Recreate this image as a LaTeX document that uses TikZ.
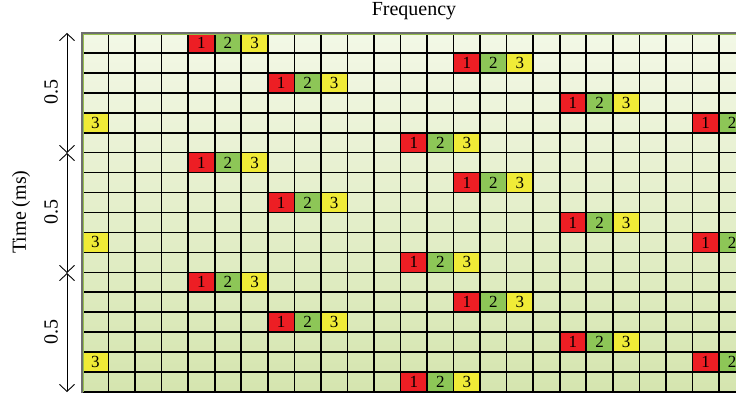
\documentclass[tikz,border=0pt]{standalone}
\usepackage{fontspec}
\setmainfont{Liberation Serif}
\usetikzlibrary{arrows.meta}
\definecolor{gtop}{RGB}{243,248,230}
\definecolor{gbot}{RGB}{213,229,175}
\definecolor{cred}{RGB}{237,30,36}
\definecolor{cgreen}{RGB}{141,198,87}
\definecolor{cyellow}{RGB}{240,235,55}
\definecolor{edgegray}{RGB}{110,110,110}
\definecolor{edgegreen}{RGB}{150,190,80}
\newcommand\cw{26.54}
\newcommand\rh{19.944}
\newcommand\mycell[4]{%
  \node[cellbox,fill=#3] (c-#1-#2) at ({82+(#1-0.5)*\cw},{33+(#2-0.5)*\rh}) {#4};}
\newcommand\mytriple[2]{%
  \mycell{#1}{#2}{cred}{1}%
  \pgfmathtruncatemacro\colb{#1+1}\pgfmathtruncatemacro\colc{#1+2}%
  \mycell{\colb}{#2}{cgreen}{2}%
  \mycell{\colc}{#2}{cyellow}{3}}
\tikzset{
  cellbox/.style={minimum width=\cw pt,minimum height=\rh pt,inner sep=0pt,draw=none,
    font=\fontsize{17}{17}\selectfont},
  gridline/.style={black,line width=1.6pt},
  dimarrow/.style={line width=0.9pt,{Straight Barb[length=7pt,width=15pt]}-{Straight Barb[length=7pt,width=15pt]}},
  lbl/.style={font=\fontsize{20}{20}\selectfont,inner sep=0pt}
}
\begin{document}
\begin{tikzpicture}[x=1pt,y=-1pt]
\useasboundingbox (0,0) rectangle (736,395);
\begin{scope}
\clip (0,0) rectangle (736,395);
\shade[top color=gtop,bottom color=gbot] (82,33) rectangle (770,392);
\foreach \s in {0,1,2}{
  \pgfmathtruncatemacro\ra{6*\s+1}
  \pgfmathtruncatemacro\rb{6*\s+2}
  \pgfmathtruncatemacro\rc{6*\s+3}
  \pgfmathtruncatemacro\rd{6*\s+4}
  \pgfmathtruncatemacro\re{6*\s+5}
  \pgfmathtruncatemacro\rf{6*\s+6}
  \mytriple{5}{\ra}
  \mytriple{15}{\rb}
  \mytriple{8}{\rc}
  \mytriple{19}{\rd}
  \mycell{1}{\re}{cyellow}{3}
  \mycell{24}{\re}{cred}{1}
  \mycell{25}{\re}{cgreen}{2}
  \mytriple{13}{\rf}
}
\foreach \i in {1,...,18} \draw[gridline] (82,{33+\i*\rh}) -- (770,{33+\i*\rh});
\foreach \j in {1,...,26} \draw[gridline] ({82+\j*\cw},33) -- ({82+\j*\cw},392);
\draw[edgegray,line width=1.8pt] (82,392.8) -- (82,33) -- (770,33);
\draw[edgegreen,line width=0.6pt] (83.6,392) -- (83.6,34.6) -- (770,34.6);
\end{scope}
\coordinate (t0) at (67,33);
\coordinate (t1) at (67,153);
\coordinate (t2) at (67,273);
\coordinate (t3) at (67,392);
\draw[dimarrow] (t0) -- (t1);
\draw[dimarrow] (t1) -- (t2);
\draw[dimarrow] (t2) -- (t3);
\node[lbl,rotate=90] (h0) at (51,92) {0.5};
\node[lbl,rotate=90] (h1) at (51,212) {0.5};
\node[lbl,rotate=90] (h2) at (51,332) {0.5};
\node[lbl,rotate=90] (tm) at (21,212) {Time (ms)};
\node[lbl,anchor=base] (fq) at (414,16) {Frequency};
\end{tikzpicture}
\end{document}
